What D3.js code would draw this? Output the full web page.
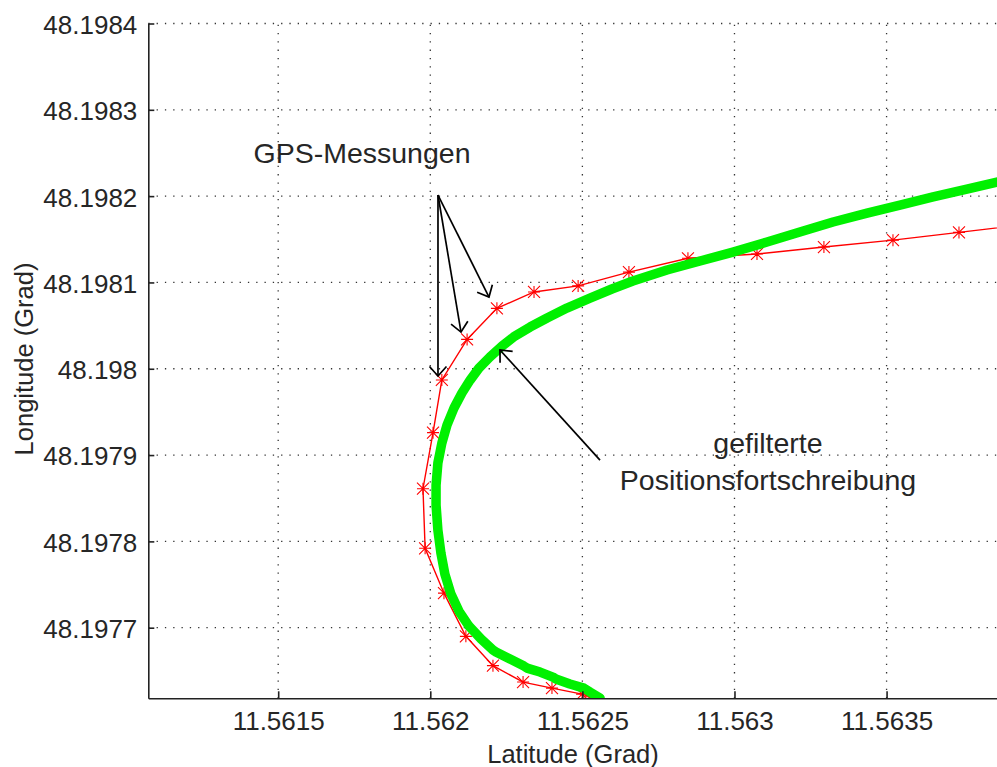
<!DOCTYPE html>
<html>
<head>
<meta charset="utf-8">
<script src="https://cdn.jsdelivr.net/npm/d3@7"></script>
<style>
  body { margin: 0; background: #fff; }
  text { font-family: "Liberation Sans", Arial, sans-serif; fill: #262626; }
</style>
</head>
<body>
<div class="chart"></div>
<script>
const w = 997;
const h = 767;

// axis ticks
const xTicks = [11.5615, 11.562, 11.5625, 11.563, 11.5635];
const yTicks = [48.1977, 48.1978, 48.1979, 48.198, 48.1981, 48.1982, 48.1983, 48.1984];

// GPS measurements (red)
const gpsLat = [11.562525, 11.562499, 11.562400, 11.562305, 11.562206, 11.562117, 11.562045, 11.561983,
  11.561976, 11.562009, 11.562038, 11.562121, 11.562219, 11.562341, 11.562486, 11.562653, 11.562847,
  11.563074, 11.563294, 11.563521, 11.563738, 11.563955];
const gpsLon = [48.197620, 48.197623, 48.197630, 48.197637, 48.197656, 48.197690, 48.197740, 48.197792,
  48.197861, 48.197926, 48.197987, 48.198034, 48.198070, 48.198089, 48.198096, 48.198112, 48.198128,
  48.198133, 48.198141, 48.198149, 48.198158, 48.198167];

// filtered position (green)
const filtLat = [11.562558, 11.562525, 11.562505, 11.562459, 11.562413, 11.562403, 11.562361, 11.562318,
  11.562308, 11.562262, 11.562216, 11.562206, 11.562167, 11.562127, 11.562094, 11.562068, 11.562048,
  11.562035, 11.562025, 11.562019, 11.562019, 11.562025, 11.562038, 11.562055, 11.562078, 11.562104,
  11.562131, 11.562160, 11.562196, 11.562236, 11.562278, 11.562328, 11.562384, 11.562449, 11.562525,
  11.562597, 11.562666, 11.562778, 11.562887, 11.562995, 11.563107, 11.563215, 11.563324, 11.563436,
  11.563544, 11.563653, 11.563764, 11.563863, 11.563922];
const filtLon = [48.1976185, 48.1976254, 48.19763, 48.1976347, 48.1976405, 48.1976428, 48.1976486, 48.1976532,
  48.1976555, 48.1976637, 48.1976718, 48.1976741, 48.1976868, 48.1977019, 48.1977193, 48.197739, 48.1977621,
  48.1977865, 48.1978131, 48.1978421, 48.1978653, 48.1978908, 48.1979139, 48.1979348, 48.1979545, 48.1979719,
  48.1979869, 48.1980008, 48.1980136, 48.1980263, 48.1980379, 48.1980483, 48.1980588, 48.1980703, 48.1980819,
  48.1980924, 48.1981016, 48.1981144, 48.1981248, 48.1981352, 48.1981468, 48.1981584, 48.19817, 48.1981804,
  48.1981897, 48.198199, 48.1982082, 48.1982163, 48.198221];

// annotations (data coordinates)
const gpsLabel = ["GPS-Messungen", 11.5617755, 48.1982384];
const gpsArrowFrom = [11.5620253, 48.1982013];
const gpsArrowTips = [[11.5620253, 48.1979916], [11.562101, 48.1980425], [11.562193, 48.1980831]];
const filtLabel = [["gefilterte", "Positionsfortschreibung"], 11.5631101, 48.1979023];
const filtArrow = [[11.5625579, 48.1978942], [11.5622291, 48.1980217]];

const pLeft = 148.3, pRight = 997, pTop = 23.5, pBottom = 698.3;

const x = d3.scaleLinear().domain([11.561073, 11.563863]).range([pLeft, pRight]);
const y = d3.scaleLinear().domain([48.1976182, 48.1984]).range([pBottom, pTop]);
const fmt = (d) => String(+d.toFixed(4));

const svg = d3.select(".chart")
  .append("svg")
  .attr("width", w)
  .attr("height", h);

svg.append("rect").attr("width", w).attr("height", h).attr("fill", "#fff");

const defs = svg.append("defs");
defs.append("clipPath").attr("id", "plot")
  .append("rect")
  .attr("x", pLeft).attr("y", pTop)
  .attr("width", pRight - pLeft).attr("height", pBottom - pTop);

defs.append("marker")
  .attr("id", "head")
  .attr("viewBox", "-12 -10 14 20")
  .attr("refX", 0).attr("refY", 0)
  .attr("markerWidth", 14).attr("markerHeight", 20)
  .attr("markerUnits", "userSpaceOnUse")
  .attr("orient", "auto")
  .style("overflow", "visible")
  .append("path")
  .attr("d", "M-9.5,-8.5L0,0L-9.5,8.5")
  .attr("fill", "none")
  .attr("stroke", "#000")
  .attr("stroke-width", 1.7);

// grid
const grid = svg.append("g")
  .attr("stroke", "#333")
  .attr("stroke-width", 1.3)
  .attr("stroke-dasharray", "1.3,7");

grid.selectAll(".gx")
  .data(xTicks)
  .enter().append("line")
  .attr("x1", (d) => x(d)).attr("x2", (d) => x(d))
  .attr("y1", pBottom).attr("y2", pTop);

grid.selectAll(".gy")
  .data(yTicks)
  .enter().append("line")
  .attr("x1", pLeft).attr("x2", pRight)
  .attr("y1", (d) => y(d)).attr("y2", (d) => y(d));

const plot = svg.append("g").attr("clip-path", "url(#plot)");

// red GPS line with star markers
const gps = gpsLat.map((d, i) => [d, gpsLon[i]]);
const line = d3.line().x((d) => x(d[0])).y((d) => y(d[1]));

plot.append("path")
  .datum(gps)
  .attr("d", line)
  .attr("fill", "none")
  .attr("stroke", "#ff0000")
  .attr("stroke-width", 1.4);

const s = 6;
plot.selectAll(".star")
  .data(gps)
  .enter().append("path")
  .attr("d", (d) => {
    const px = x(d[0]), py = y(d[1]);
    return `M${px - s},${py - s}L${px + s},${py + s}M${px - s},${py + s}L${px + s},${py - s}` +
      `M${px},${py - s}L${px},${py + s}M${px - s},${py}L${px + s},${py}`;
  })
  .attr("stroke", "#ff0000")
  .attr("stroke-width", 1.1)
  .attr("fill", "none");

// green filtered line
const filt = filtLat.map((d, i) => [d, filtLon[i]]);
plot.append("path")
  .datum(filt)
  .attr("d", line)
  .attr("fill", "none")
  .attr("stroke", "#00f000")
  .attr("stroke-width", 9.5)
  .attr("stroke-linejoin", "round")
  .attr("stroke-linecap", "round");

// axes
const yAxis = d3.axisLeft(y)
  .tickValues(yTicks)
  .tickFormat(fmt)
  .tickSizeInner(-6)
  .tickSizeOuter(0)
  .tickPadding(11);

const xAxis = d3.axisBottom(x)
  .tickValues(xTicks)
  .tickFormat(fmt)
  .tickSizeInner(-7)
  .tickSizeOuter(0)
  .tickPadding(13);

const gy = svg.append("g")
  .attr("transform", `translate(${pLeft},0)`)
  .call(yAxis);
gy.selectAll("text").attr("dy", "0.38em");

const gx = svg.append("g")
  .attr("transform", `translate(0,${pBottom})`)
  .call(xAxis);

svg.selectAll(".domain, .tick line")
  .attr("stroke", "#222")
  .attr("stroke-width", 1.6);
svg.selectAll(".tick text")
  .attr("font-size", "26px")
  .attr("font-family", "Liberation Sans, Arial, sans-serif")
  .attr("fill", "#2a2a2a");

svg.append("text")
  .attr("x", 573)
  .attr("y", 763)
  .attr("text-anchor", "middle")
  .attr("font-size", "25.5px")
  .text("Latitude (Grad)");

svg.append("text")
  .attr("transform", "translate(33,359) rotate(-90)")
  .attr("text-anchor", "middle")
  .attr("font-size", "25.5px")
  .text("Longitude (Grad)");

// annotations
svg.append("text")
  .attr("x", x(gpsLabel[1]))
  .attr("y", y(gpsLabel[2]))
  .attr("text-anchor", "middle")
  .attr("font-size", "28.5px")
  .text(gpsLabel[0]);

svg.selectAll(".garrow")
  .data(gpsArrowTips)
  .enter().append("line")
  .attr("x1", x(gpsArrowFrom[0]))
  .attr("y1", y(gpsArrowFrom[1]))
  .attr("x2", (d) => x(d[0]))
  .attr("y2", (d) => y(d[1]))
  .attr("stroke", "#000")
  .attr("stroke-width", 1.7)
  .attr("marker-end", "url(#head)");

svg.append("line")
  .attr("x1", x(filtArrow[0][0]))
  .attr("y1", y(filtArrow[0][1]))
  .attr("x2", x(filtArrow[1][0]))
  .attr("y2", y(filtArrow[1][1]))
  .attr("stroke", "#000")
  .attr("stroke-width", 1.7)
  .attr("marker-end", "url(#head)");

svg.selectAll(".flabel")
  .data(filtLabel[0])
  .enter().append("text")
  .attr("x", x(filtLabel[1]))
  .attr("y", (d, i) => y(filtLabel[2]) + i * 37)
  .attr("text-anchor", "middle")
  .attr("font-size", "28.5px")
  .text((d) => d);
</script>
</body>
</html>
